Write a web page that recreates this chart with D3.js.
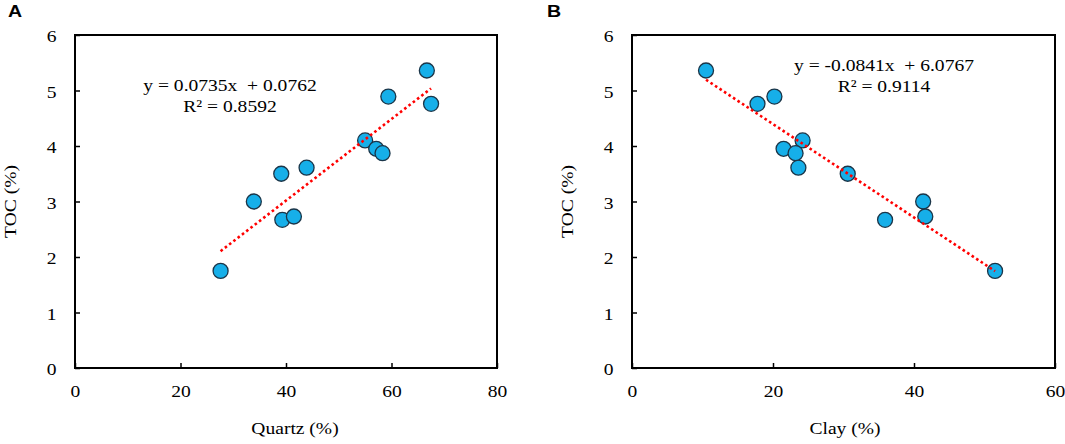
<!DOCTYPE html>
<html>
<head>
<meta charset="utf-8">
<script src="https://cdn.jsdelivr.net/npm/d3@7"></script>
<style>
  body { margin: 0; background: #fff; }
  svg { display: block; }
  text { font-family: "Liberation Serif", "Times New Roman", serif; fill: #000; white-space: pre; }
</style>
</head>
<body>
<div id="chart"></div>
<script>
// samples (same order in both panels)
var toc    = [1.75, 3.00, 3.50, 2.67, 2.73, 3.61, 4.10, 3.95, 3.87, 4.89, 5.36, 4.76];
var quartz = [27.6, 33.9, 39.1, 39.3, 41.5, 43.9, 55.0, 57.1, 58.3, 59.4, 66.7, 67.5];
var clay   = [51.5, 41.3, 30.6, 35.9, 41.6, 23.6, 24.2, 21.5, 23.2, 20.2, 10.5, 17.8];

// linear fits as printed on the chart
var fitSlope     = [0.0735, -0.0841];
var fitIntercept = [0.0762, 6.0767];
var fitLabels    = ["y = 0.0735x  + 0.0762", "y = -0.0841x  + 6.0767"];
var r2Labels     = ["R\u00B2 = 0.8592", "R\u00B2 = 0.9114"];

var xTicksA = [0, 20, 40, 60, 80];
var xTicksB = [0, 20, 40, 60];
var yTicks  = [0, 1, 2, 3, 4, 5, 6];

(function () {
  'use strict';

  var W = 1065, H = 444;
  var sx = 1.15; // the source figure is stretched horizontally
  var plotTop = 35, plotBottom = 368;

  var svg = d3.select("#chart").append("svg")
    .attr("width", W)
    .attr("height", H);

  // text helper: horizontally stretched text anchored at (x, y)
  function label(g, x, y, str, opts) {
    opts = opts || {};
    var t = g.append("text")
      .attr("transform", "translate(" + x + "," + y + ")" + (opts.rotate ? " rotate(" + opts.rotate + ")" : "") + " scale(" + sx + ",1)")
      .attr("text-anchor", opts.anchor || "middle")
      .style("font-size", (opts.size || 17) + "px")
      .text(str);
    if (opts.bold) t.style("font-weight", "bold");
    if (opts.sans) t.style("font-family", "'Liberation Sans', Arial, sans-serif");
    return t;
  }

  var panels = [
    { letter: "A", lx: 8,   xs: quartz, xMax: 80, xTicks: xTicksA, left: 75,  right: 497,  title: "Quartz (%)", titleX: 295, yTitleX: 16,  eqX: 230, eqY: 91 },
    { letter: "B", lx: 547, xs: clay,   xMax: 60, xTicks: xTicksB, left: 632, right: 1055, title: "Clay (%)",   titleX: 845, yTitleX: 573, eqX: 884, eqY: 71 }
  ];

  panels.forEach(function (p, pi) {
    var g = svg.append("g");

    var x = d3.scaleLinear().domain([0, p.xMax]).range([p.left, p.right]);
    var y = d3.scaleLinear().domain([0, 6]).range([plotBottom, plotTop]);

    // panel letter
    label(g, p.lx, 17, p.letter, { anchor: "start", size: 17, bold: true, sans: true });

    // axes with inside ticks
    var yAxisG = g.append("g")
      .attr("transform", "translate(" + p.left + ",0)")
      .call(d3.axisLeft(y).tickValues(yTicks).tickFormat(d3.format("d")).tickSizeInner(-5).tickSizeOuter(0).tickPadding(16));
    var xAxisG = g.append("g")
      .attr("transform", "translate(0," + plotBottom + ")")
      .call(d3.axisBottom(x).tickValues(p.xTicks).tickFormat(d3.format("d")).tickSizeInner(-5).tickSizeOuter(0).tickPadding(17));

    [yAxisG, xAxisG].forEach(function (ax) {
      ax.select(".domain").remove();
      ax.selectAll(".tick line").attr("stroke", "#000").attr("stroke-width", 1.5);
      ax.selectAll(".tick text")
        .style("font-family", "'Liberation Serif', 'Times New Roman', serif")
        .style("font-size", "17px")
        .attr("fill", "#000");
    });
    yAxisG.selectAll(".tick text").attr("transform", "scale(" + sx + ",1)").attr("dy", "0.4em");
    xAxisG.selectAll(".tick text").attr("transform", "scale(" + sx + ",1)").attr("dy", "0.71em");

    // plot frame
    g.append("rect")
      .attr("x", p.left).attr("y", plotTop)
      .attr("width", p.right - p.left).attr("height", plotBottom - plotTop)
      .attr("fill", "none").attr("stroke", "#000").attr("stroke-width", 2);

    // axis titles
    label(g, p.titleX, 434, p.title, { size: 17 });
    label(g, p.yTitleX, (plotTop + plotBottom) / 2, "TOC (%)", { size: 17, rotate: -90 });

    // points
    g.append("g").selectAll("circle")
      .data(p.xs.map(function (v, i) { return { x: v, y: toc[i] }; }))
      .join("circle")
      .attr("cx", function (d) { return x(d.x); })
      .attr("cy", function (d) { return y(d.y); })
      .attr("r", 7.5)
      .attr("fill", "#16AFE9")
      .attr("stroke", "#1B3548")
      .attr("stroke-width", 1.3);

    // trend line over the data range
    var ext = d3.extent(p.xs);
    var line = d3.line()
      .x(function (d) { return x(d); })
      .y(function (d) { return y(fitSlope[pi] * d + fitIntercept[pi]); });
    g.append("path")
      .datum(ext)
      .attr("d", line)
      .attr("fill", "none")
      .attr("stroke", "#FF0000")
      .attr("stroke-width", 2.6)
      .attr("stroke-dasharray", "2.6 2.8");

    // equation labels
    label(g, p.eqX, p.eqY, fitLabels[pi], { size: 17 });
    label(g, p.eqX, p.eqY + 21, r2Labels[pi], { size: 17 });
  });
})();
</script>
</body>
</html>
